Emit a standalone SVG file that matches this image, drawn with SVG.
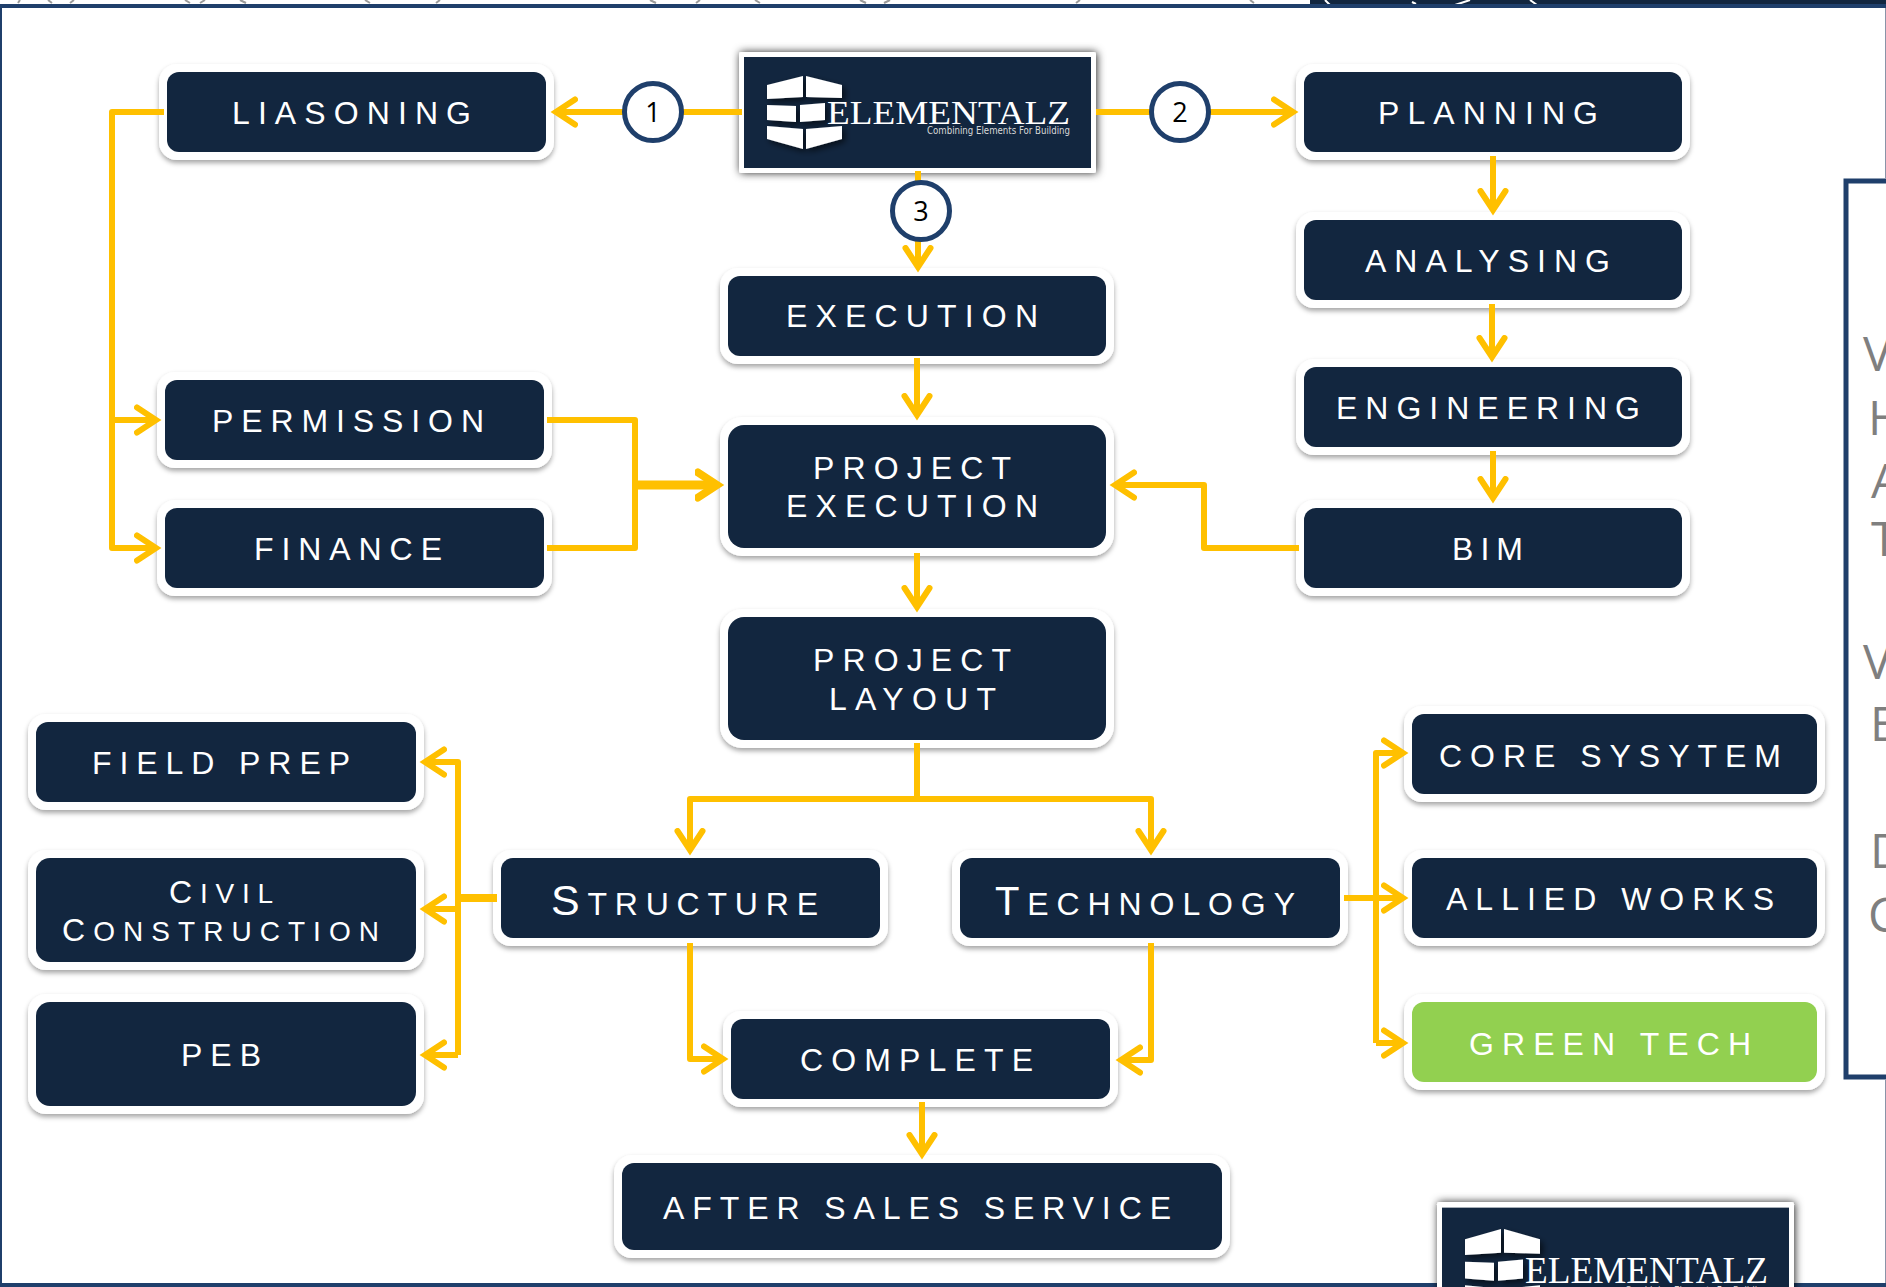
<svg xmlns="http://www.w3.org/2000/svg" xmlns:xlink="http://www.w3.org/1999/xlink" width="1886" height="1287" viewBox="0 0 1886 1287">
<style>
.f{fill:#fff;filter:url(#s)}
.b{fill:#12263f}
.g{fill:#92d050}
.t{font-family:"Liberation Sans",Arial,sans-serif;font-size:32px;fill:#fff}
.sm{font-size:28px}
.c{fill:none;stroke:#ffc000;stroke-width:6;stroke-linejoin:round}
.e{marker-end:url(#a)}
.d{fill:#fff;stroke:#1f3f6b;stroke-width:5}
.n{font-family:"Open Sans",sans-serif;font-size:27px;fill:#000;text-anchor:middle}
.p{font-family:"Open Sans",sans-serif;font-size:48px;fill:#7f7f7f}
.i{fill:#fff}
</style>
<defs>
<filter id="s" x="-10%" y="-20%" width="120%" height="140%"><feDropShadow dx="0" dy="3" stdDeviation="2.5" flood-color="#000" flood-opacity=".35"/></filter>
<filter id="ls" x="-10%" y="-20%" width="120%" height="140%"><feDropShadow dx="1" dy="0" stdDeviation="4" flood-color="#000" flood-opacity=".85"/></filter>
<filter id="is" x="-20%" y="-20%" width="140%" height="140%"><feDropShadow dx="3" dy="3" stdDeviation="3" flood-color="#000" flood-opacity=".6"/></filter>
<marker id="a" markerUnits="userSpaceOnUse" markerWidth="34" markerHeight="36" viewBox="0 -18 34 36" refX="18" refY="0" orient="auto">
<path d="M3-12.500 22 0 3 12.500" fill="none" stroke="#ffc000" stroke-width="6" stroke-linecap="round" stroke-linejoin="miter"/>
</marker>
<marker id="a2" markerUnits="userSpaceOnUse" markerWidth="34" markerHeight="36" viewBox="0 -18 34 36" refX="20" refY="0" orient="auto">
<path d="M3-12.500 22 0 3 12.500" fill="none" stroke="#ffc000" stroke-width="8" stroke-linecap="round" stroke-linejoin="miter"/>
</marker>
<g id="logo">
<rect x="739" y="52" width="357" height="121" rx="2" fill="#fff" filter="url(#ls)"/>
<rect x="744" y="57" width="347" height="111" fill="#12263f"/>
<g filter="url(#is)">
<polygon class="i" points="767,85 803,76 803,97 767,99"/>
<polygon class="i" points="806,76 842,85 842,98 806,97"/>
<polygon class="i" points="767,105 796,106 796,122 767,120"/>
<polygon class="i" points="800,105 825,103 825,120 800,122"/>
<polygon class="i" points="767,126 803,129 803,149 767,139"/>
<polygon class="i" points="806,129 842,126 842,139 806,149"/>
</g>
<text x="827" y="124" font-family="Liberation Serif,serif" font-size="34" fill="#fff" textLength="243" lengthAdjust="spacingAndGlyphs">ELEMENTALZ</text>
<text x="927" y="134" font-family="DejaVu Sans,sans-serif" font-size="10" fill="#d9d9d9" textLength="143" lengthAdjust="spacingAndGlyphs">Combining Elements For Building</text>
</g>
</defs>
<rect width="1886" height="1287" fill="#fff"/>
<g id="frame">
<rect x="1310" y="0" width="576" height="5" fill="#12263f"/>
<path d="M20 0 18 3M48 0 52 3M74 0 70 3M185 0 190 3M205 0 200 3M240 0 246 3M365 0 370 3M440 0 436 3M650 0 656 3M700 0 696 3M755 0 760 3M860 0 866 3M890 0 884 3M1080 0 1076 3M1250 0 1254 3" stroke="#9a9a9a" stroke-width="2" fill="none"/>
<path d="M1325 0 1330 5M1412 2 1416 4M1455 5 1470 0M1530 0 1537 5" stroke="#fff" stroke-width="2" fill="none"/>
<rect x="0" y="4" width="1886" height="4" fill="#1f3f6b"/>
<rect x="0" y="4" width="2" height="1283" fill="#1f3f6b"/>
<rect x="0" y="1283" width="1886" height="4" fill="#1f3f6b"/>
<path d="M1885.500 8V178M1885.500 1080V1283" stroke="#8a94a8" stroke-width="1"/>
</g>
<g id="side-panel">
<path d="M1886 181H1846V1077H1886" fill="#fff" stroke="#1f3f6b" stroke-width="5"/>
<text class="p" x="1863" y="371">V</text>
<text class="p" x="1868" y="435">H</text>
<text class="p" x="1871" y="498">A</text>
<text class="p" x="1871" y="556">T</text>
<text class="p" x="1863" y="679">V</text>
<text class="p" x="1870" y="741">E</text>
<text class="p" x="1870" y="868">D</text>
<text class="p" x="1868" y="932">C</text>
</g>
<g id="node-liasoning"><rect class="f" x="159" y="64" width="395" height="96" rx="18"/><rect class="b" x="167" y="72" width="379" height="80" rx="12"/><text class="t" x="232" y="124" textLength="239">LIASONING</text></g>
<g id="node-planning"><rect class="f" x="1296" y="64" width="394" height="96" rx="18"/><rect class="b" x="1304" y="72" width="378" height="80" rx="12"/><text class="t" x="1378" y="124" textLength="220">PLANNING</text></g>
<g id="node-analysing"><rect class="f" x="1296" y="212" width="394" height="96" rx="18"/><rect class="b" x="1304" y="220" width="378" height="80" rx="12"/><text class="t" x="1365" y="272" textLength="245">ANALYSING</text></g>
<g id="node-engineering"><rect class="f" x="1296" y="359" width="394" height="96" rx="18"/><rect class="b" x="1304" y="367" width="378" height="80" rx="12"/><text class="t" x="1336" y="419" textLength="304">ENGINEERING</text></g>
<g id="node-bim"><rect class="f" x="1296" y="500" width="394" height="96" rx="18"/><rect class="b" x="1304" y="508" width="378" height="80" rx="12"/><text class="t" x="1452" y="560" textLength="71">BIM</text></g>
<g id="node-execution"><rect class="f" x="720" y="268" width="394" height="96" rx="18"/><rect class="b" x="728" y="276" width="378" height="80" rx="12"/><text class="t" x="786" y="327" textLength="252">EXECUTION</text></g>
<g id="node-project-execution"><rect class="f" x="720" y="417" width="394" height="139" rx="22"/><rect class="b" x="728" y="425" width="378" height="123" rx="16"/><text class="t" x="813" y="479" textLength="198">PROJECT</text><text class="t" x="786" y="517" textLength="252">EXECUTION</text></g>
<g id="node-project-layout"><rect class="f" x="720" y="609" width="394" height="139" rx="22"/><rect class="b" x="728" y="617" width="378" height="123" rx="16"/><text class="t" x="813" y="671" textLength="198">PROJECT</text><text class="t" x="829" y="710" textLength="167">LAYOUT</text></g>
<g id="node-permission"><rect class="f" x="157" y="372" width="395" height="96" rx="18"/><rect class="b" x="165" y="380" width="379" height="80" rx="12"/><text class="t" x="212" y="432" textLength="272">PERMISSION</text></g>
<g id="node-finance"><rect class="f" x="157" y="500" width="395" height="96" rx="18"/><rect class="b" x="165" y="508" width="379" height="80" rx="12"/><text class="t" x="254" y="560" textLength="188">FINANCE</text></g>
<g id="node-field-prep"><rect class="f" x="28" y="714" width="396" height="96" rx="18"/><rect class="b" x="36" y="722" width="380" height="80" rx="12"/><text class="t" x="92" y="774" textLength="258">FIELD PREP</text></g>
<g id="node-civil"><rect class="f" x="28" y="850" width="396" height="120" rx="18"/><rect class="b" x="36" y="858" width="380" height="104" rx="14"/><text class="t" x="169" y="903" textLength="104">C<tspan class="sm">IVIL</tspan></text><text class="t" x="62" y="941" textLength="317">C<tspan class="sm">ONSTRUCTION</tspan></text></g>
<g id="node-peb"><rect class="f" x="28" y="994" width="396" height="120" rx="18"/><rect class="b" x="36" y="1002" width="380" height="104" rx="14"/><text class="t" x="181" y="1066" textLength="80">PEB</text></g>
<g id="node-structure"><rect class="f" x="493" y="850" width="395" height="96" rx="18"/><rect class="b" x="501" y="858" width="379" height="80" rx="12"/><text class="t" x="551" y="915" textLength="267"><tspan font-size="43">S</tspan>TRUCTURE</text></g>
<g id="node-technology"><rect class="f" x="952" y="850" width="396" height="96" rx="18"/><rect class="b" x="960" y="858" width="380" height="80" rx="12"/><text class="t" x="995" y="915" textLength="300"><tspan font-size="40">T</tspan>ECHNOLOGY</text></g>
<g id="node-complete"><rect class="f" x="723" y="1011" width="395" height="96" rx="18"/><rect class="b" x="731" y="1019" width="379" height="80" rx="12"/><text class="t" x="800" y="1071" textLength="233">COMPLETE</text></g>
<g id="node-after-sales"><rect class="f" x="614" y="1155" width="616" height="103" rx="18"/><rect class="b" x="622" y="1163" width="600" height="87" rx="12"/><text class="t" x="663" y="1219" textLength="508">AFTER SALES SERVICE</text></g>
<g id="node-core"><rect class="f" x="1404" y="706" width="421" height="96" rx="18"/><rect class="b" x="1412" y="714" width="405" height="80" rx="12"/><text class="t" x="1439" y="767" textLength="342">CORE SYSYTEM</text></g>
<g id="node-allied"><rect class="f" x="1404" y="850" width="421" height="96" rx="18"/><rect class="b" x="1412" y="858" width="405" height="80" rx="12"/><text class="t" x="1446" y="910" textLength="328">ALLIED WORKS</text></g>
<g id="node-green"><rect class="f" x="1404" y="994" width="421" height="96" rx="18"/><rect class="g" x="1412" y="1002" width="405" height="80" rx="12"/><text class="t" x="1469" y="1055" textLength="282">GREEN TECH</text></g>
<g id="node-logo"><use xlink:href="#logo" href="#logo"/></g>
<g id="node-logo-bottom"><use xlink:href="#logo" href="#logo" transform="translate(698 1143.500) scale(1 1.125)"/></g>
<g id="connectors">
<path class="c e" d="M742 112H560"/>
<path class="c e" d="M1096 112H1289"/>
<path class="c e" d="M918 171V263"/>
<path class="c e" d="M164 112H112V548H152"/>
<path class="c e" d="M112 420H152"/>
<path class="c e" d="M1493 156V206"/>
<path class="c e" d="M1492 304V353"/>
<path class="c e" d="M1493 451V494"/>
<path class="c e" d="M917 358V411"/>
<path class="c e" d="M917 553V603"/>
<path class="c" d="M547 420H635V548H547"/>
<path class="c" style="stroke-width:9;marker-end:url(#a2)" d="M635 485H715"/>
<path class="c e" d="M1299 548H1204V485H1119"/>
<path class="c" d="M917 743V799"/>
<path class="c e" d="M917 799H690V846"/>
<path class="c e" d="M917 799H1151V846"/>
<path class="c" style="stroke-width:8" d="M497 898H458"/>
<path class="c e" d="M458 1055V762H429"/>
<path class="c e" d="M458 909H429"/>
<path class="c e" d="M458 1055H429"/>
<path class="c e" d="M690 943V1059H719"/>
<path class="c e" d="M1151 943V1060H1125"/>
<path class="c e" d="M922 1102V1150"/>
<path class="c e" d="M1344 898H1399"/>
<path class="c e" d="M1376 1043V753H1399"/>
<path class="c e" d="M1376 1043H1399"/>
</g>
<g id="node-badge-1"><circle class="d" cx="653" cy="112" r="28.500"/><text class="n" x="653" y="122">1</text></g>
<g id="node-badge-2"><circle class="d" cx="1180" cy="112" r="28.500"/><text class="n" x="1180" y="122">2</text></g>
<g id="node-badge-3"><circle class="d" cx="921" cy="211" r="28.500"/><text class="n" x="921" y="221">3</text></g>
</svg>
